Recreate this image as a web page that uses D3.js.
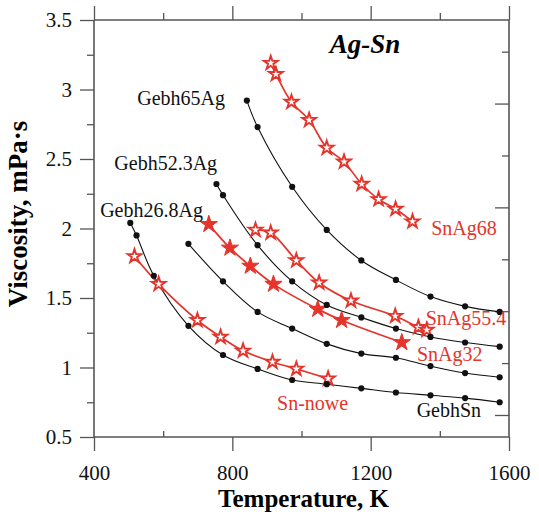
<!DOCTYPE html>
<html>
<head>
<meta charset="utf-8">
<script src="https://cdn.jsdelivr.net/npm/d3@7"></script>
<style>
  html, body { margin: 0; padding: 0; background: #fff; }
  svg { display: block; }
  text { font-family: "Liberation Serif", "Times New Roman", serif; }
</style>
</head>
<body>
<svg id="chart" width="539" height="517"></svg>
<script>
// Viscosity of liquid Ag-Sn alloys vs temperature (K)

// Axis ticks
const xMajorTicks = [400, 800, 1200, 1600];
const xMinorTicks = [600, 1000, 1400];
const yMajorTicks = [0.5, 1, 1.5, 2, 2.5, 3, 3.5];
const yMinorTicks = [0.75, 1.25, 1.75, 2.25, 2.75, 3.25];
const rightTicks = [1, 1.5, 2, 2.5, 3, 3.5, 4, 4.5];

// Model curves (black dots)
const gebh65AgT = [842, 873, 973, 1073, 1173, 1273, 1373, 1473, 1573];
const gebh65AgV = [2.92, 2.73, 2.30, 1.99, 1.77, 1.63, 1.51, 1.44, 1.40];

const gebh523AgT = [754, 773, 873, 973, 1073, 1173, 1273, 1373, 1473, 1573];
const gebh523AgV = [2.32, 2.24, 1.88, 1.62, 1.45, 1.36, 1.28, 1.22, 1.18, 1.15];

const gebh268AgT = [673, 773, 873, 973, 1073, 1173, 1273, 1373, 1473, 1573];
const gebh268AgV = [1.89, 1.62, 1.40, 1.28, 1.17, 1.10, 1.07, 1.01, 0.96, 0.93];

const gebhSnT = [505, 523, 573, 673, 773, 873, 973, 1073, 1173, 1273, 1373, 1473, 1573];
const gebhSnV = [2.04, 1.95, 1.66, 1.30, 1.09, 0.99, 0.91, 0.88, 0.85, 0.82, 0.80, 0.78, 0.75];

// Measurements (red stars)
const snAg68T = [911, 926, 971, 1022, 1073, 1123, 1174, 1223, 1272, 1321];
const snAg68V = [3.19, 3.11, 2.91, 2.78, 2.58, 2.48, 2.32, 2.21, 2.14, 2.05];

const snAg554T = [867, 911, 985, 1051, 1143, 1271, 1338, 1362];
const snAg554V = [1.99, 1.97, 1.77, 1.61, 1.48, 1.37, 1.29, 1.27];

const snAg32T = [732, 793, 852, 919, 1047, 1116, 1290];
const snAg32V = [2.03, 1.86, 1.73, 1.60, 1.42, 1.34, 1.18];

const snNoweT = [517, 587, 699, 766, 831, 916, 985, 1077];
const snNoweV = [1.80, 1.60, 1.34, 1.22, 1.12, 1.04, 0.99, 0.92];

const RED = "#e5342b";
const AXIS = "#555";

const svg = d3.select("#chart");
const plotL = 94, plotR = 509, plotT = 20, plotB = 437;

const x = d3.scaleLinear().domain([400, 1600]).range([plotL, plotR]);
const y = d3.scaleLinear().domain([0.5, 3.5]).range([plotB, plotT]);
const yRight = d3.scaleLinear().domain([0.788, 4.805]).range([plotB, plotT]);

const zip = (ts, vs) => ts.map((t, i) => ({ t, v: vs[i] }));

// ---- Axes ----
const axes = svg.append("g");

// bottom: major outward, minor inward
axes.append("g").attr("transform", `translate(0,${plotB})`)
  .call(d3.axisBottom(x).tickValues(xMajorTicks).tickSize(14).tickPadding(14).tickFormat(d3.format("d")));
axes.append("g").attr("transform", `translate(0,${plotB})`)
  .call(d3.axisTop(x).tickValues(xMinorTicks).tickSize(6).tickFormat(""));

// top: outward ticks, no labels
axes.append("g").attr("transform", `translate(0,${plotT})`)
  .call(d3.axisTop(x).tickValues(xMajorTicks).tickSize(14).tickFormat(""));
axes.append("g").attr("transform", `translate(0,${plotT})`)
  .call(d3.axisTop(x).tickValues(xMinorTicks).tickSize(7).tickFormat(""));

// left: outward ticks
axes.append("g").attr("transform", `translate(${plotL},0)`)
  .call(d3.axisLeft(y).tickValues(yMajorTicks).tickSize(14).tickPadding(8)
    .tickFormat(d => String(d)));
axes.append("g").attr("transform", `translate(${plotL},0)`)
  .call(d3.axisLeft(y).tickValues(yMinorTicks).tickSize(7).tickFormat(""));

// right: secondary unlabeled scale, inward ticks
axes.append("g").attr("transform", `translate(${plotR},0)`)
  .call(d3.axisLeft(yRight).tickValues(rightTicks.filter(d => Number.isInteger(d))).tickSize(14).tickFormat(""));
axes.append("g").attr("transform", `translate(${plotR},0)`)
  .call(d3.axisLeft(yRight).tickValues(rightTicks.filter(d => !Number.isInteger(d))).tickSize(7).tickFormat(""));

axes.selectAll(".domain").remove();
axes.selectAll(".tick line").attr("stroke", AXIS).attr("stroke-width", 1.3);
axes.selectAll(".tick text")
  .attr("fill", "#111")
  .style("font-family", "'Liberation Serif', serif")
  .style("font-size", "21px");

// frame lines
const frame = svg.append("g").attr("stroke", AXIS).attr("stroke-width", 1.6).attr("fill", "none");
frame.append("line").attr("x1", plotL).attr("x2", plotR).attr("y1", plotT).attr("y2", plotT);
frame.append("line").attr("x1", plotL).attr("x2", plotR).attr("y1", plotB).attr("y2", plotB);
frame.append("line").attr("x1", plotL).attr("x2", plotL).attr("y1", plotT).attr("y2", plotB);
frame.append("line").attr("x1", plotR).attr("x2", plotR).attr("y1", plotT).attr("y2", plotB);

// ---- Axis titles ----
svg.append("text")
  .attr("x", (plotL + plotR) / 2 + 2).attr("y", 507)
  .attr("text-anchor", "middle")
  .style("font-weight", "bold").style("font-size", "25px")
  .text("Temperature, K");

svg.append("text")
  .attr("transform", `translate(27,214) rotate(-90)`)
  .attr("text-anchor", "middle")
  .style("font-weight", "bold").style("font-size", "27px")
  .text("Viscosity, mPa·s");

svg.append("text")
  .attr("x", 365).attr("y", 53)
  .attr("text-anchor", "middle")
  .style("font-weight", "bold").style("font-style", "italic").style("font-size", "27px")
  .text("Ag-Sn");

// ---- Series ----
const line = d3.line().x(d => x(d.t)).y(d => y(d.v)).curve(d3.curveCatmullRom.alpha(0.5));
const star = d3.symbol().type(d3.symbolStar);

const redSeries = [
  { data: zip(snAg68T, snAg68V), filled: false },
  { data: zip(snAg554T, snAg554V), filled: false },
  { data: zip(snAg32T, snAg32V), filled: true },
  { data: zip(snNoweT, snNoweV), filled: false }
];
const blackSeries = [
  zip(gebh65AgT, gebh65AgV),
  zip(gebh523AgT, gebh523AgV),
  zip(gebh268AgT, gebh268AgV),
  zip(gebhSnT, gebhSnV)
];

const plot = svg.append("g");

blackSeries.forEach(s => {
  plot.append("path").datum(s).attr("d", line)
    .attr("fill", "none").attr("stroke", "#111").attr("stroke-width", 1.1);
});

redSeries.forEach(s => {
  plot.append("path").datum(s.data).attr("d", line)
    .attr("fill", "none").attr("stroke", RED).attr("stroke-width", 1.7);
});

redSeries.forEach(s => {
  plot.selectAll(null).data(s.data).join("path")
    .attr("transform", d => `translate(${x(d.t)},${y(d.v)})`)
    .attr("d", star.size(s.filled ? 92 : 58)())
    .attr("fill", s.filled ? RED : "#fff")
    .attr("stroke", RED)
    .attr("stroke-width", s.filled ? 1 : 1.9)
    .attr("stroke-linejoin", "miter");
});

blackSeries.forEach(s => {
  plot.selectAll(null).data(s).join("circle")
    .attr("cx", d => x(d.t)).attr("cy", d => y(d.v)).attr("r", 3.1)
    .attr("fill", "#111");
});

// ---- Series labels ----
const labels = [
  { text: "Gebh65Ag", t: 779, v: 2.89, anchor: "end", color: "#111" },
  { text: "Gebh52.3Ag", t: 756, v: 2.42, anchor: "end", color: "#111" },
  { text: "Gebh26.8Ag", t: 715, v: 2.08, anchor: "end", color: "#111" },
  { text: "SnAg68", t: 1375, v: 1.95, anchor: "start", color: RED },
  { text: "SnAg55.4", t: 1359, v: 1.306, anchor: "start", color: RED },
  { text: "SnAg32", t: 1334, v: 1.047, anchor: "start", color: RED },
  { text: "Sn-nowe", t: 1135, v: 0.694, anchor: "end", color: RED },
  { text: "GebhSn", t: 1333, v: 0.646, anchor: "start", color: "#111" }
];
svg.append("g").selectAll("text").data(labels).join("text")
  .attr("x", d => x(d.t)).attr("y", d => y(d.v))
  .attr("text-anchor", d => d.anchor)
  .attr("fill", d => d.color)
  .style("font-size", "20px")
  .text(d => d.text);
</script>
</body>
</html>
